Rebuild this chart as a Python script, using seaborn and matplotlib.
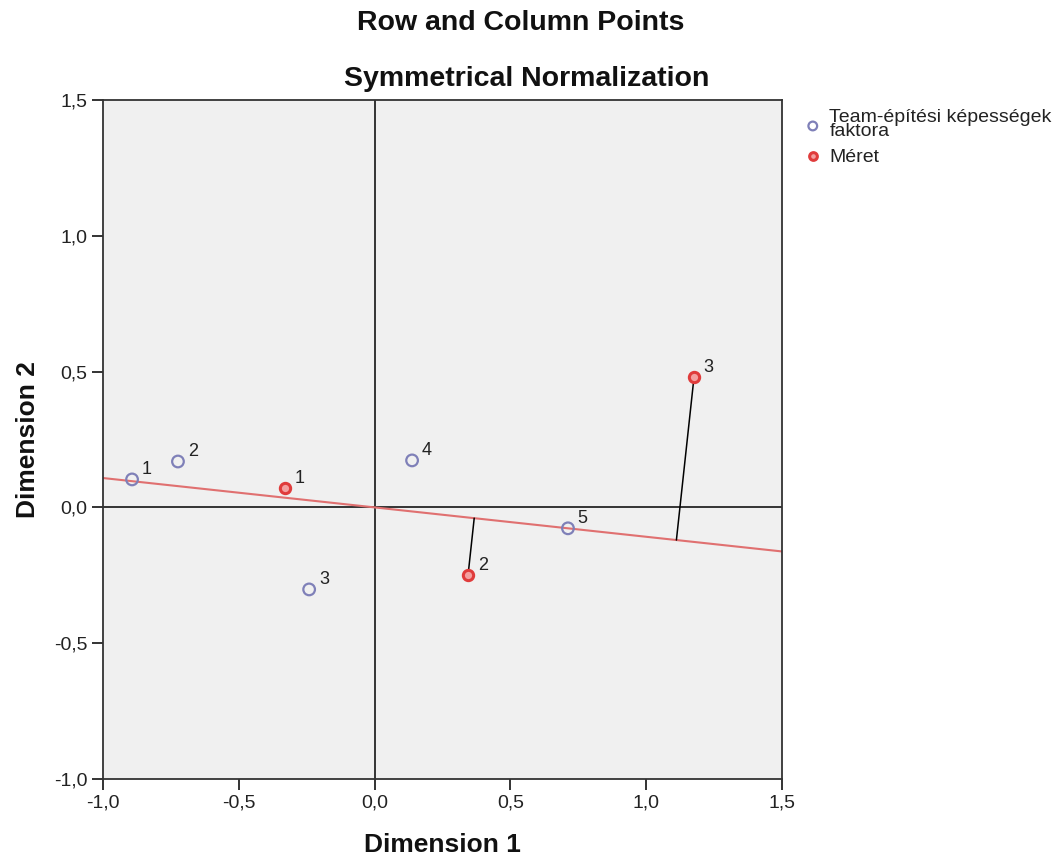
import numpy as np
import pandas as pd
import matplotlib
matplotlib.use("Agg")
import matplotlib.pyplot as plt
import seaborn as sns

# Data
team_labels = ["1", "2", "3", "4", "5"]
team_dim1 = [-0.893, -0.724, -0.241, 0.138, 0.712]
team_dim2 = [0.103, 0.169, -0.302, 0.173, -0.077]

meret_labels = ["1", "2", "3"]
meret_dim1 = [-0.330, 0.344, 1.176]
meret_dim2 = [0.070, -0.250, 0.479]

legend_names = ["Team-építési képességek\nfaktora", "Méret"]
x_ticks = [-1.0, -0.5, 0.0, 0.5, 1.0, 1.5]
y_ticks = [-1.0, -0.5, 0.0, 0.5, 1.0, 1.5]

sns.set_theme(style="white")
plt.rcParams['font.family'] = ['Liberation Sans', 'DejaVu Sans']

df = pd.concat([
    pd.DataFrame({"d1": team_dim1, "d2": team_dim2, "lab": team_labels, "grp": legend_names[0]}),
    pd.DataFrame({"d1": meret_dim1, "d2": meret_dim2, "lab": meret_labels, "grp": legend_names[1]}),
], ignore_index=True)

W, H = 1062, 858
fig = plt.figure(figsize=(W / 100, H / 100), dpi=100)
ax = fig.add_axes([103/W, 1-779/H, (782-103)/W, (779-100)/H])
ax.set_facecolor("#f0f0f0")

ax.set_xlim(-1.0, 1.5)
ax.set_ylim(-1.0, 1.5)

# reference lines
ax.axhline(0, color="#333333", lw=1.4, zorder=1)
ax.axvline(0, color="#333333", lw=1.4, zorder=1)

# projection direction: team point 5
vx, vy = team_dim1[4], team_dim2[4]
norm = np.hypot(vx, vy)
ux, uy = vx / norm, vy / norm
xs = np.array([-1.0, 1.5])
ax.plot(xs, xs * uy / ux, color="#e07070", lw=1.5, zorder=2)

# projection lines for Méret 2 and 3
for i in [1, 2]:
    px, py = meret_dim1[i], meret_dim2[i]
    d = px * ux + py * uy
    ax.plot([px, d * ux], [py, d * uy], color="black", lw=1.1, zorder=2)

team_df = df[df.grp == legend_names[0]]
meret_df = df[df.grp == legend_names[1]]
sns.scatterplot(data=team_df, x="d1", y="d2", ax=ax, marker="o", s=70,
                facecolor="none", edgecolor="#7f80b8", linewidth=1.6, zorder=4,
                label=legend_names[0])
sns.scatterplot(data=meret_df, x="d1", y="d2", ax=ax, marker="o", s=55,
                color="#f3a0a0", edgecolor="#e03c3c", linewidth=2.2, zorder=4,
                label=legend_names[1])

for _, r in df.iterrows():
    ax.annotate(r["lab"], (r["d1"], r["d2"]), xytext=(7, 4), textcoords="offset points",
                fontsize=13, color="#222222", zorder=5)

ax.set_xticks(x_ticks)
ax.set_yticks(y_ticks)
ax.set_xticklabels([f"{v:.1f}".replace(".", ",") for v in x_ticks], fontsize=14, color="#222222")
ax.set_yticklabels([f"{v:.1f}".replace(".", ",") for v in y_ticks], fontsize=14, color="#222222")
ax.tick_params(axis="both", direction="out", length=8, width=1.4, color="#333333",
               bottom=True, left=True, pad=3)
for s in ax.spines.values():
    s.set_color("#333333")
    s.set_linewidth(1.3)

ax.set_xlabel("Dimension 1", fontsize=19, fontweight="bold", labelpad=16, color="#111111")
ax.set_ylabel("Dimension 2", fontsize=19, fontweight="bold", labelpad=10, color="#111111")

fig.text(521/W, 1-23/H, "Row and Column Points", ha="center", va="center",
         fontsize=20.5, fontweight="bold", color="#111111")
fig.text(527/W, 1-79/H, "Symmetrical Normalization", ha="center", va="center",
         fontsize=20.5, fontweight="bold", color="#111111")

leg = ax.legend(loc="upper left", bbox_to_anchor=(805/W, 1-109/H),
                bbox_transform=fig.transFigure, frameon=False,
                fontsize=14, handletextpad=0.45, borderaxespad=0, borderpad=0,
                labelspacing=0.4, handlelength=0.8, markerscale=0.75)
for t in leg.get_texts():
    t.set_linespacing(0.78)
    t.set_color("#222222")

fig.savefig("out.png", dpi=100)
